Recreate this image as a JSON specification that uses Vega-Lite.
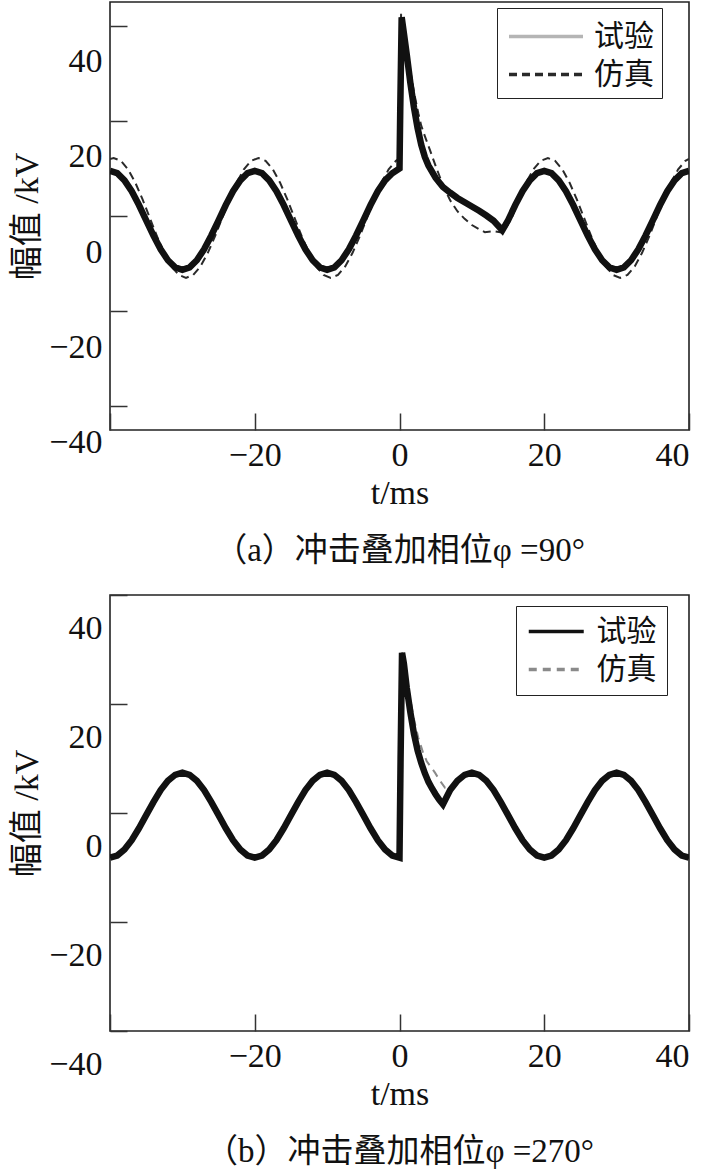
{
  "$schema": "https://vega.github.io/schema/vega-lite/v6.json",
  "padding": {"left": 10, "top": 1, "right": 0, "bottom": 0},
  "background": "white",
  "config": {
    "font": "Liberation Serif, Noto Sans CJK SC",
    "view": {"stroke": "#222", "strokeWidth": 1.6},
    "axis": {
      "domain": false, "grid": false, "tickColor": "#333", "tickWidth": 1.5, "tickSize": -17,
      "labelFont": "Liberation Serif", "labelFontSize": 34, "labelColor": "#111", "labelPadding": 25,
      "titleFont": "Liberation Serif, Noto Sans CJK SC", "titleFontSize": 34, "titleFontWeight": "normal", "titleColor": "#111"
    },
    "legend": {
      "symbolType": "M-2,0H2", "symbolStrokeWidth": 3.5, "labelFont": "Noto Sans CJK SC", "labelFontSize": 30,
      "labelColor": "#111", "strokeColor": "#222", "fillColor": "white", "padding": 8
    },
    "title": {"font": "Liberation Serif, Noto Sans CJK SC", "fontSize": 33, "fontWeight": "normal", "color": "#111"}
  },
  "datasets": {
    "a": [
      {"t":-40,"v":9.5,"s":"试验"},{"t":-39,"v":9.0,"s":"试验"},{"t":-38,"v":7.5,"s":"试验"},{"t":-37,"v":5.2,"s":"试验"},{"t":-36,"v":2.3,"s":"试验"},{"t":-35,"v":-0.9,"s":"试验"},{"t":-34,"v":-4.1,"s":"试验"},{"t":-33,"v":-7.0,"s":"试验"},{"t":-32,"v":-9.3,"s":"试验"},{"t":-31,"v":-10.8,"s":"试验"},{"t":-30,"v":-11.3,"s":"试验"},{"t":-29,"v":-10.8,"s":"试验"},{"t":-28,"v":-9.3,"s":"试验"},{"t":-27,"v":-7.0,"s":"试验"},{"t":-26,"v":-4.1,"s":"试验"},{"t":-25,"v":-0.9,"s":"试验"},{"t":-24,"v":2.3,"s":"试验"},{"t":-23,"v":5.2,"s":"试验"},{"t":-22,"v":7.5,"s":"试验"},{"t":-21,"v":9.0,"s":"试验"},{"t":-20,"v":9.5,"s":"试验"},{"t":-19,"v":9.0,"s":"试验"},{"t":-18,"v":7.5,"s":"试验"},{"t":-17,"v":5.2,"s":"试验"},{"t":-16,"v":2.3,"s":"试验"},{"t":-15,"v":-0.9,"s":"试验"},{"t":-14,"v":-4.1,"s":"试验"},{"t":-13,"v":-7.0,"s":"试验"},{"t":-12,"v":-9.3,"s":"试验"},{"t":-11,"v":-10.8,"s":"试验"},{"t":-10,"v":-11.3,"s":"试验"},{"t":-9,"v":-10.8,"s":"试验"},{"t":-8,"v":-9.3,"s":"试验"},{"t":-7,"v":-7.0,"s":"试验"},{"t":-6,"v":-4.1,"s":"试验"},{"t":-5,"v":-0.9,"s":"试验"},{"t":-4,"v":2.3,"s":"试验"},{"t":-3,"v":5.2,"s":"试验"},{"t":-2,"v":7.5,"s":"试验"},{"t":-1,"v":9.0,"s":"试验"},{"t":0,"v":10.0,"s":"试验"},{"t":0.1,"v":22,"s":"试验"},{"t":0.3,"v":41.8,"s":"试验"},{"t":0.6,"v":38.5,"s":"试验"},{"t":1.0,"v":34,"s":"试验"},{"t":1.5,"v":28,"s":"试验"},{"t":2.0,"v":22.8,"s":"试验"},{"t":2.5,"v":18.5,"s":"试验"},{"t":3.0,"v":15,"s":"试验"},{"t":3.5,"v":12.4,"s":"试验"},{"t":4.0,"v":10.6,"s":"试验"},{"t":5.0,"v":8.0,"s":"试验"},{"t":6.0,"v":6.1,"s":"试验"},{"t":7.0,"v":4.9,"s":"试验"},{"t":8.0,"v":3.8,"s":"试验"},{"t":9.0,"v":2.9,"s":"试验"},{"t":10.0,"v":2.0,"s":"试验"},{"t":11.0,"v":1.1,"s":"试验"},{"t":12.0,"v":0.1,"s":"试验"},{"t":13.0,"v":-1.0,"s":"试验"},{"t":14.2,"v":-3.0,"s":"试验"},{"t":15,"v":-0.9,"s":"试验"},{"t":16,"v":2.3,"s":"试验"},{"t":17,"v":5.2,"s":"试验"},{"t":18,"v":7.5,"s":"试验"},{"t":19,"v":9.0,"s":"试验"},{"t":20,"v":9.5,"s":"试验"},{"t":21,"v":9.0,"s":"试验"},{"t":22,"v":7.5,"s":"试验"},{"t":23,"v":5.2,"s":"试验"},{"t":24,"v":2.3,"s":"试验"},{"t":25,"v":-0.9,"s":"试验"},{"t":26,"v":-4.1,"s":"试验"},{"t":27,"v":-7.0,"s":"试验"},{"t":28,"v":-9.3,"s":"试验"},{"t":29,"v":-10.8,"s":"试验"},{"t":30,"v":-11.3,"s":"试验"},{"t":31,"v":-10.8,"s":"试验"},{"t":32,"v":-9.3,"s":"试验"},{"t":33,"v":-7.0,"s":"试验"},{"t":34,"v":-4.1,"s":"试验"},{"t":35,"v":-0.9,"s":"试验"},{"t":36,"v":2.3,"s":"试验"},{"t":37,"v":5.2,"s":"试验"},{"t":38,"v":7.5,"s":"试验"},{"t":39,"v":9.0,"s":"试验"},{"t":40,"v":9.5,"s":"试验"},
      {"t":-40,"v":12.0,"s":"仿真"},{"t":-39.5,"v":12.2,"s":"仿真"},{"t":-38.5,"v":11.6,"s":"仿真"},{"t":-37.5,"v":9.8,"s":"仿真"},{"t":-36.5,"v":7.0,"s":"仿真"},{"t":-35.5,"v":3.5,"s":"仿真"},{"t":-34.5,"v":-0.4,"s":"仿真"},{"t":-33.5,"v":-4.3,"s":"仿真"},{"t":-32.5,"v":-7.8,"s":"仿真"},{"t":-31.5,"v":-10.6,"s":"仿真"},{"t":-30.5,"v":-12.4,"s":"仿真"},{"t":-29.5,"v":-13.0,"s":"仿真"},{"t":-28.5,"v":-12.4,"s":"仿真"},{"t":-27.5,"v":-10.6,"s":"仿真"},{"t":-26.5,"v":-7.8,"s":"仿真"},{"t":-25.5,"v":-4.3,"s":"仿真"},{"t":-24.5,"v":-0.4,"s":"仿真"},{"t":-23.5,"v":3.5,"s":"仿真"},{"t":-22.5,"v":7.0,"s":"仿真"},{"t":-21.5,"v":9.8,"s":"仿真"},{"t":-20.5,"v":11.6,"s":"仿真"},{"t":-19.5,"v":12.2,"s":"仿真"},{"t":-18.5,"v":11.6,"s":"仿真"},{"t":-17.5,"v":9.8,"s":"仿真"},{"t":-16.5,"v":7.0,"s":"仿真"},{"t":-15.5,"v":3.5,"s":"仿真"},{"t":-14.5,"v":-0.4,"s":"仿真"},{"t":-13.5,"v":-4.3,"s":"仿真"},{"t":-12.5,"v":-7.8,"s":"仿真"},{"t":-11.5,"v":-10.6,"s":"仿真"},{"t":-10.5,"v":-12.4,"s":"仿真"},{"t":-9.5,"v":-13.0,"s":"仿真"},{"t":-8.5,"v":-12.4,"s":"仿真"},{"t":-7.5,"v":-10.6,"s":"仿真"},{"t":-6.5,"v":-7.8,"s":"仿真"},{"t":-5.5,"v":-4.3,"s":"仿真"},{"t":-4.5,"v":-0.4,"s":"仿真"},{"t":-3.5,"v":3.5,"s":"仿真"},{"t":-2.5,"v":7.0,"s":"仿真"},{"t":-1.5,"v":9.8,"s":"仿真"},{"t":-0.5,"v":11.6,"s":"仿真"},{"t":-0.05,"v":12.0,"s":"仿真"},{"t":0.05,"v":30,"s":"仿真"},{"t":0.22,"v":42.5,"s":"仿真"},{"t":0.7,"v":39,"s":"仿真"},{"t":1.0,"v":35.5,"s":"仿真"},{"t":1.5,"v":30.5,"s":"仿真"},{"t":2.0,"v":26,"s":"仿真"},{"t":2.6,"v":21.6,"s":"仿真"},{"t":3.0,"v":19.0,"s":"仿真"},{"t":3.5,"v":16.8,"s":"仿真"},{"t":4.2,"v":13.9,"s":"仿真"},{"t":5.0,"v":10.5,"s":"仿真"},{"t":6.0,"v":6.5,"s":"仿真"},{"t":7.0,"v":3.3,"s":"仿真"},{"t":8.0,"v":1.0,"s":"仿真"},{"t":9.0,"v":-0.6,"s":"仿真"},{"t":10.0,"v":-1.9,"s":"仿真"},{"t":11.0,"v":-2.8,"s":"仿真"},{"t":11.8,"v":-3.4,"s":"仿真"},{"t":13.0,"v":-3.2,"s":"仿真"},{"t":14.3,"v":-3.5,"s":"仿真"},{"t":15.5,"v":-0.4,"s":"仿真"},{"t":16.5,"v":3.5,"s":"仿真"},{"t":17.5,"v":7.0,"s":"仿真"},{"t":18.5,"v":9.8,"s":"仿真"},{"t":19.5,"v":11.6,"s":"仿真"},{"t":20.5,"v":12.2,"s":"仿真"},{"t":21.5,"v":11.6,"s":"仿真"},{"t":22.5,"v":9.8,"s":"仿真"},{"t":23.5,"v":7.0,"s":"仿真"},{"t":24.5,"v":3.5,"s":"仿真"},{"t":25.5,"v":-0.4,"s":"仿真"},{"t":26.5,"v":-4.3,"s":"仿真"},{"t":27.5,"v":-7.8,"s":"仿真"},{"t":28.5,"v":-10.6,"s":"仿真"},{"t":29.5,"v":-12.4,"s":"仿真"},{"t":30.5,"v":-13.0,"s":"仿真"},{"t":31.5,"v":-12.4,"s":"仿真"},{"t":32.5,"v":-10.6,"s":"仿真"},{"t":33.5,"v":-7.8,"s":"仿真"},{"t":34.5,"v":-4.3,"s":"仿真"},{"t":35.5,"v":-0.4,"s":"仿真"},{"t":36.5,"v":3.5,"s":"仿真"},{"t":37.5,"v":7.0,"s":"仿真"},{"t":38.5,"v":9.8,"s":"仿真"},{"t":39.5,"v":11.6,"s":"仿真"},{"t":40,"v":12.0,"s":"仿真"}
    ],
    "b": [
      {"t":-40,"v":-8.2,"s":"试验"},{"t":-39,"v":-7.8,"s":"试验"},{"t":-38,"v":-6.7,"s":"试验"},{"t":-37,"v":-5.0,"s":"试验"},{"t":-36,"v":-2.8,"s":"试验"},{"t":-35,"v":-0.4,"s":"试验"},{"t":-34,"v":2.0,"s":"试验"},{"t":-33,"v":4.2,"s":"试验"},{"t":-32,"v":5.9,"s":"试验"},{"t":-31,"v":7.0,"s":"试验"},{"t":-30,"v":7.4,"s":"试验"},{"t":-29,"v":7.0,"s":"试验"},{"t":-28,"v":5.9,"s":"试验"},{"t":-27,"v":4.2,"s":"试验"},{"t":-26,"v":2.0,"s":"试验"},{"t":-25,"v":-0.4,"s":"试验"},{"t":-24,"v":-2.8,"s":"试验"},{"t":-23,"v":-5.0,"s":"试验"},{"t":-22,"v":-6.7,"s":"试验"},{"t":-21,"v":-7.8,"s":"试验"},{"t":-20,"v":-8.2,"s":"试验"},{"t":-19,"v":-7.8,"s":"试验"},{"t":-18,"v":-6.7,"s":"试验"},{"t":-17,"v":-5.0,"s":"试验"},{"t":-16,"v":-2.8,"s":"试验"},{"t":-15,"v":-0.4,"s":"试验"},{"t":-14,"v":2.0,"s":"试验"},{"t":-13,"v":4.2,"s":"试验"},{"t":-12,"v":5.9,"s":"试验"},{"t":-11,"v":7.0,"s":"试验"},{"t":-10,"v":7.4,"s":"试验"},{"t":-9,"v":7.0,"s":"试验"},{"t":-8,"v":5.9,"s":"试验"},{"t":-7,"v":4.2,"s":"试验"},{"t":-6,"v":2.0,"s":"试验"},{"t":-5,"v":-0.4,"s":"试验"},{"t":-4,"v":-2.8,"s":"试验"},{"t":-3,"v":-5.0,"s":"试验"},{"t":-2,"v":-6.7,"s":"试验"},{"t":-1,"v":-7.8,"s":"试验"},{"t":0,"v":-8.2,"s":"试验"},{"t":0.15,"v":10,"s":"试验"},{"t":0.35,"v":29.4,"s":"试验"},{"t":0.6,"v":27.5,"s":"试验"},{"t":1.0,"v":23.0,"s":"试验"},{"t":1.5,"v":18.5,"s":"试验"},{"t":2.0,"v":14.5,"s":"试验"},{"t":2.5,"v":11.5,"s":"试验"},{"t":3.0,"v":9.2,"s":"试验"},{"t":3.5,"v":7.3,"s":"试验"},{"t":4.0,"v":5.7,"s":"试验"},{"t":4.5,"v":4.5,"s":"试验"},{"t":5.0,"v":3.4,"s":"试验"},{"t":5.5,"v":2.4,"s":"试验"},{"t":6.0,"v":1.6,"s":"试验"},{"t":7,"v":4.2,"s":"试验"},{"t":8,"v":5.9,"s":"试验"},{"t":9,"v":7.0,"s":"试验"},{"t":10,"v":7.4,"s":"试验"},{"t":11,"v":7.0,"s":"试验"},{"t":12,"v":5.9,"s":"试验"},{"t":13,"v":4.2,"s":"试验"},{"t":14,"v":2.0,"s":"试验"},{"t":15,"v":-0.4,"s":"试验"},{"t":16,"v":-2.8,"s":"试验"},{"t":17,"v":-5.0,"s":"试验"},{"t":18,"v":-6.7,"s":"试验"},{"t":19,"v":-7.8,"s":"试验"},{"t":20,"v":-8.2,"s":"试验"},{"t":21,"v":-7.8,"s":"试验"},{"t":22,"v":-6.7,"s":"试验"},{"t":23,"v":-5.0,"s":"试验"},{"t":24,"v":-2.8,"s":"试验"},{"t":25,"v":-0.4,"s":"试验"},{"t":26,"v":2.0,"s":"试验"},{"t":27,"v":4.2,"s":"试验"},{"t":28,"v":5.9,"s":"试验"},{"t":29,"v":7.0,"s":"试验"},{"t":30,"v":7.4,"s":"试验"},{"t":31,"v":7.0,"s":"试验"},{"t":32,"v":5.9,"s":"试验"},{"t":33,"v":4.2,"s":"试验"},{"t":34,"v":2.0,"s":"试验"},{"t":35,"v":-0.4,"s":"试验"},{"t":36,"v":-2.8,"s":"试验"},{"t":37,"v":-5.0,"s":"试验"},{"t":38,"v":-6.7,"s":"试验"},{"t":39,"v":-7.8,"s":"试验"},{"t":40,"v":-8.2,"s":"试验"},
      {"t":-40,"v":-8.2,"s":"仿真"},{"t":-39,"v":-7.8,"s":"仿真"},{"t":-38,"v":-6.7,"s":"仿真"},{"t":-37,"v":-5.0,"s":"仿真"},{"t":-36,"v":-2.8,"s":"仿真"},{"t":-35,"v":-0.4,"s":"仿真"},{"t":-34,"v":2.0,"s":"仿真"},{"t":-33,"v":4.2,"s":"仿真"},{"t":-32,"v":5.9,"s":"仿真"},{"t":-31,"v":7.0,"s":"仿真"},{"t":-30,"v":7.4,"s":"仿真"},{"t":-29,"v":7.0,"s":"仿真"},{"t":-28,"v":5.9,"s":"仿真"},{"t":-27,"v":4.2,"s":"仿真"},{"t":-26,"v":2.0,"s":"仿真"},{"t":-25,"v":-0.4,"s":"仿真"},{"t":-24,"v":-2.8,"s":"仿真"},{"t":-23,"v":-5.0,"s":"仿真"},{"t":-22,"v":-6.7,"s":"仿真"},{"t":-21,"v":-7.8,"s":"仿真"},{"t":-20,"v":-8.2,"s":"仿真"},{"t":-19,"v":-7.8,"s":"仿真"},{"t":-18,"v":-6.7,"s":"仿真"},{"t":-17,"v":-5.0,"s":"仿真"},{"t":-16,"v":-2.8,"s":"仿真"},{"t":-15,"v":-0.4,"s":"仿真"},{"t":-14,"v":2.0,"s":"仿真"},{"t":-13,"v":4.2,"s":"仿真"},{"t":-12,"v":5.9,"s":"仿真"},{"t":-11,"v":7.0,"s":"仿真"},{"t":-10,"v":7.4,"s":"仿真"},{"t":-9,"v":7.0,"s":"仿真"},{"t":-8,"v":5.9,"s":"仿真"},{"t":-7,"v":4.2,"s":"仿真"},{"t":-6,"v":2.0,"s":"仿真"},{"t":-5,"v":-0.4,"s":"仿真"},{"t":-4,"v":-2.8,"s":"仿真"},{"t":-3,"v":-5.0,"s":"仿真"},{"t":-2,"v":-6.7,"s":"仿真"},{"t":-1,"v":-7.8,"s":"仿真"},{"t":-0.1,"v":-8.2,"s":"仿真"},{"t":0.0,"v":12,"s":"仿真"},{"t":0.2,"v":29.0,"s":"仿真"},{"t":0.6,"v":28.0,"s":"仿真"},{"t":1.0,"v":24.5,"s":"仿真"},{"t":1.45,"v":21.2,"s":"仿真"},{"t":2.0,"v":17.2,"s":"仿真"},{"t":2.6,"v":13.8,"s":"仿真"},{"t":3.2,"v":11.3,"s":"仿真"},{"t":3.76,"v":9.5,"s":"仿真"},{"t":4.9,"v":7.4,"s":"仿真"},{"t":5.6,"v":5.9,"s":"仿真"},{"t":6.3,"v":4.6,"s":"仿真"},{"t":7.0,"v":4.4,"s":"仿真"},{"t":8,"v":5.9,"s":"仿真"},{"t":9,"v":7.0,"s":"仿真"},{"t":10,"v":7.4,"s":"仿真"},{"t":11,"v":7.0,"s":"仿真"},{"t":12,"v":5.9,"s":"仿真"},{"t":13,"v":4.2,"s":"仿真"},{"t":14,"v":2.0,"s":"仿真"},{"t":15,"v":-0.4,"s":"仿真"},{"t":16,"v":-2.8,"s":"仿真"},{"t":17,"v":-5.0,"s":"仿真"},{"t":18,"v":-6.7,"s":"仿真"},{"t":19,"v":-7.8,"s":"仿真"},{"t":20,"v":-8.2,"s":"仿真"},{"t":21,"v":-7.8,"s":"仿真"},{"t":22,"v":-6.7,"s":"仿真"},{"t":23,"v":-5.0,"s":"仿真"},{"t":24,"v":-2.8,"s":"仿真"},{"t":25,"v":-0.4,"s":"仿真"},{"t":26,"v":2.0,"s":"仿真"},{"t":27,"v":4.2,"s":"仿真"},{"t":28,"v":5.9,"s":"仿真"},{"t":29,"v":7.0,"s":"仿真"},{"t":30,"v":7.4,"s":"仿真"},{"t":31,"v":7.0,"s":"仿真"},{"t":32,"v":5.9,"s":"仿真"},{"t":33,"v":4.2,"s":"仿真"},{"t":34,"v":2.0,"s":"仿真"},{"t":35,"v":-0.4,"s":"仿真"},{"t":36,"v":-2.8,"s":"仿真"},{"t":37,"v":-5.0,"s":"仿真"},{"t":38,"v":-6.7,"s":"仿真"},{"t":39,"v":-7.8,"s":"仿真"},{"t":40,"v":-8.2,"s":"仿真"}
    ]
  },
  "spacing": 165,
  "bounds": "flush",
  "resolve": {"scale": {"color": "independent", "strokeDash": "independent"}, "legend": {"color": "independent", "strokeDash": "independent"}},
  "vconcat": [
    {
      "width": 579, "height": 428,
      "data": {"name": "a"},
      "title": {"text": "（a）冲击叠加相位φ =90°", "orient": "bottom", "anchor": "middle", "offset": 25},
      "encoding": {
        "x": {"field": "t", "type": "quantitative", "scale": {"domain": [-40, 40], "nice": false},
          "axis": {"title": "t/ms", "values": [-40, -20, 0, 20, 40], "labelExpr": "datum.value == -40 ? '' : datum.label"}},
        "y": {"field": "v", "type": "quantitative", "scale": {"domain": [-45, 45], "nice": false, "zero": false},
          "axis": {"title": "幅值 /kV", "values": [-40, -20, 0, 20, 40], "labelOffset": 36}}
      },
      "layer": [
        {
          "mark": {"type": "line", "strokeWidth": 2, "clip": true},
          "encoding": {
            "color": {"field": "s", "type": "nominal", "scale": {"domain": ["试验", "仿真"], "range": ["#b5b5b5", "#2a2a2a"]},
              "legend": {"title": null, "orient": "none", "legendX": 387, "legendY": 6, "symbolSize": 1369, "symbolOffset": 20.5, "labelOffset": 27.5, "rowPadding": 2}},
            "strokeDash": {"field": "s", "type": "nominal", "scale": {"domain": ["试验", "仿真"], "range": [[1, 0], [8, 5]]},
              "legend": {"title": null, "orient": "none", "legendX": 387, "legendY": 6, "symbolSize": 1369, "symbolOffset": 20.5, "labelOffset": 27.5, "rowPadding": 2}}
          }
        },
        {
          "transform": [{"filter": "datum.s === '试验'"}],
          "mark": {"type": "line", "color": "#111", "strokeWidth": 6.5, "clip": true},
          "encoding": {}
        }
      ]
    },
    {
      "width": 579, "height": 436,
      "data": {"name": "b"},
      "title": {"text": "（b）冲击叠加相位φ =270°", "orient": "bottom", "anchor": "middle", "offset": 25},
      "encoding": {
        "x": {"field": "t", "type": "quantitative", "scale": {"domain": [-40, 40], "nice": false},
          "axis": {"title": "t/ms", "values": [-40, -20, 0, 20, 40], "labelExpr": "datum.value == -40 ? '' : datum.label"}},
        "y": {"field": "v", "type": "quantitative", "scale": {"domain": [-40, 40], "nice": false, "zero": false},
          "axis": {"title": "幅值 /kV", "values": [-40, -20, 0, 20, 40], "labelOffset": 33}}
      },
      "layer": [
        {
          "mark": {"type": "line", "strokeWidth": 2, "clip": true},
          "encoding": {
            "color": {"field": "s", "type": "nominal", "scale": {"domain": ["试验", "仿真"], "range": ["#111111", "#8a8a8a"]},
              "legend": {"title": null, "orient": "none", "legendX": 406, "legendY": 11, "padding": 10, "symbolSize": 756, "symbolOffset": 14.75, "labelOffset": 24.75, "rowPadding": 7}},
            "strokeDash": {"field": "s", "type": "nominal", "scale": {"domain": ["试验", "仿真"], "range": [[1, 0], [8, 6]]},
              "legend": {"title": null, "orient": "none", "legendX": 406, "legendY": 11, "padding": 10, "symbolSize": 756, "symbolOffset": 14.75, "labelOffset": 24.75, "rowPadding": 7}}
          }
        },
        {
          "transform": [{"filter": "datum.s === '试验'"}],
          "mark": {"type": "line", "color": "#111", "strokeWidth": 6.5, "clip": true},
          "encoding": {}
        }
      ]
    }
  ]
}
